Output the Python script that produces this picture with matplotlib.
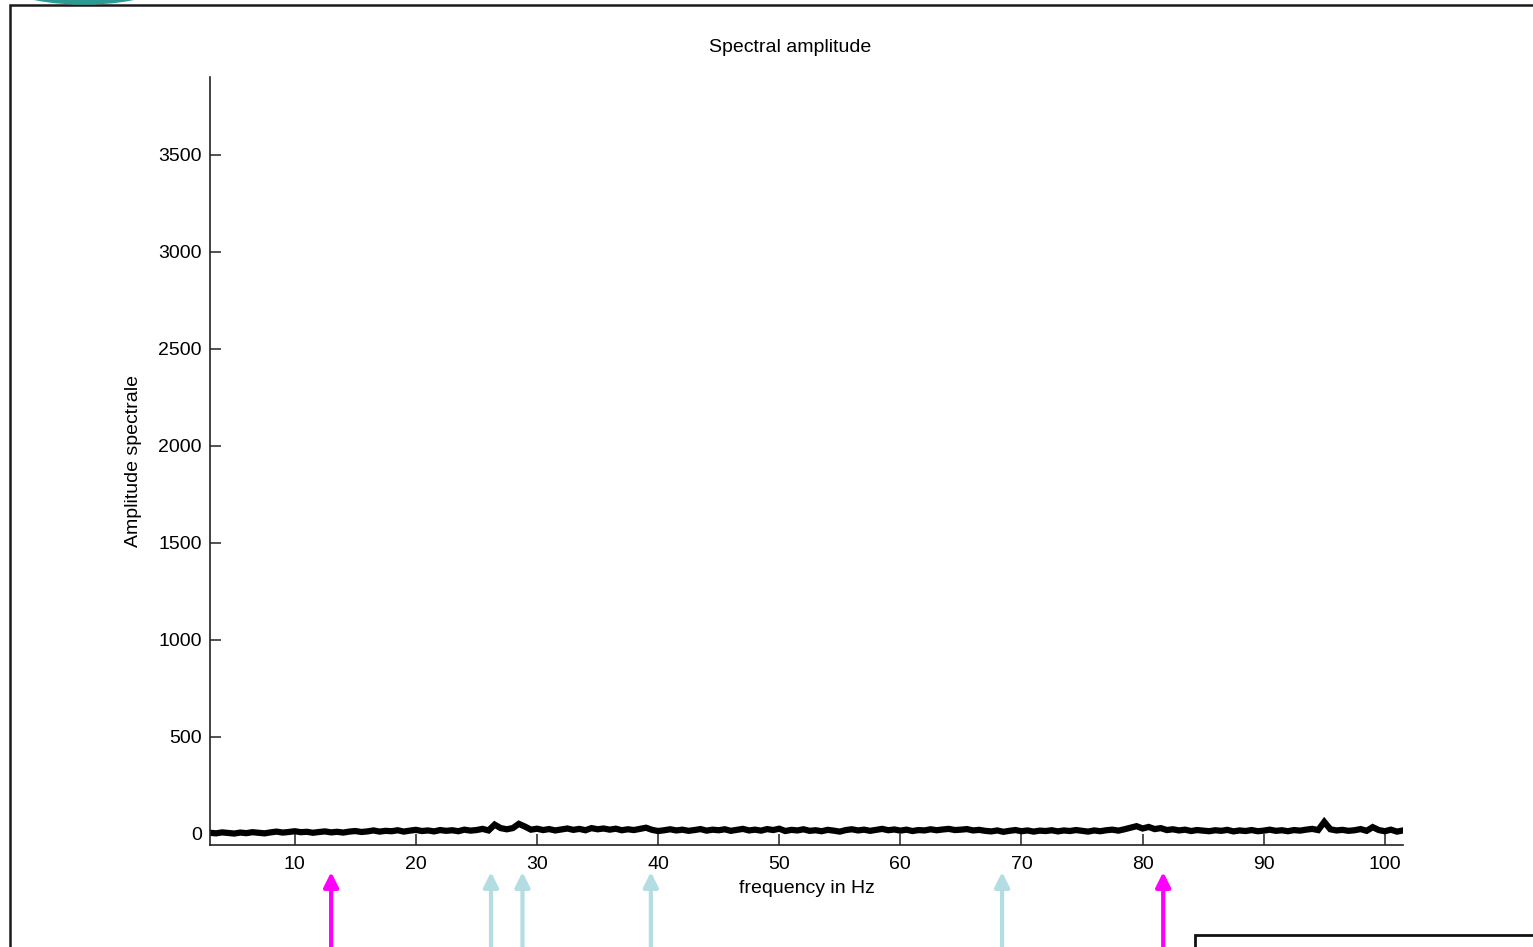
import numpy as np
import matplotlib
matplotlib.use("Agg")
import matplotlib.pyplot as plt
from matplotlib.patches import Rectangle, Arc

# ---- data ----
amplitude = [
    6, 3, 8, 5, 2, 7, 4, 9, 6, 3,
    8, 12, 7, 10, 14, 9, 11, 6, 10, 13,
    8, 11, 7, 12, 15, 10, 13, 18, 12, 16,
    14, 19, 12, 17, 21, 15, 18, 13, 20, 16,
    19, 14, 22, 17, 20, 26, 18, 48, 30, 24,
    30, 52, 38, 22, 27, 20, 25, 18, 23, 28,
    21, 26, 19, 30, 24, 28, 22, 27, 19, 24,
    20, 26, 32, 21, 15, 19, 24, 18, 22, 16,
    20, 25, 17, 22, 19, 24, 16, 21, 26, 18,
    22, 17, 25, 20, 27, 15, 21, 18, 24, 16,
    19, 14, 21, 17, 12, 20, 24, 18, 22, 16,
    21, 26, 19, 23, 17, 22, 15, 20, 18, 24,
    19, 23, 26, 20, 22, 25, 18, 21, 16, 13,
    18, 11, 16, 20, 14, 18, 12, 17, 15, 19,
    13, 18, 15, 20, 16, 12, 18, 14, 19, 22,
    17, 24, 32, 40, 28, 36, 25, 30, 20, 24,
    18, 22, 15, 20, 17, 14, 19, 16, 21, 13,
    18, 15, 20, 14, 17, 22, 16, 19, 14, 20,
    17, 22, 26, 20, 62, 24, 18, 21, 16, 19,
    25, 16, 35, 20, 14, 22, 12, 18,
]
frequency = np.linspace(3.0, 101.5, len(amplitude))

magenta_marks = [13.0, 81.7]
lightblue_marks = [26.2, 28.8, 39.4, 68.4]

x_ticks = [10, 20, 30, 40, 50, 60, 70, 80, 90, 100]
y_ticks = [0, 500, 1000, 1500, 2000, 2500, 3000, 3500]

title = "Spectral amplitude"
xlabel = "frequency in Hz"
ylabel = "Amplitude spectrale"

# ---- figure ----
W, H = 1533, 947
fig = plt.figure(figsize=(W / 100, H / 100), dpi=100)
plt.rcParams['font.family'] = ['Liberation Sans', 'DejaVu Sans']
FS = 14

def fx(px):
    return px / W

def fy(py_top):
    return (H - py_top) / H

ax = fig.add_axes([fx(210), fy(845), fx(1403) - fx(210), fy(77) - fy(845)])
ax.plot(frequency, amplitude, color='black', lw=4.5, solid_joinstyle='miter')
ax.set_xlim(3.0, 101.5)
ax.set_ylim(-57, 3900)
ax.set_xticks(x_ticks)
ax.set_yticks(y_ticks)
ax.spines['top'].set_visible(False)
ax.spines['right'].set_visible(False)
for s in ('left', 'bottom'):
    ax.spines[s].set_color('#222222')
    ax.spines[s].set_linewidth(1.2)
ax.tick_params(direction='in', length=8, width=1.1, labelsize=FS, color='#222222')
ax.tick_params(axis='x', pad=8)
ax.tick_params(axis='y', pad=6)
ax.set_xlabel(xlabel, fontsize=FS, labelpad=5)
ax.set_ylabel(ylabel, fontsize=FS, labelpad=12)
fig.text(fx(790), fy(48), title, ha='center', va='center', fontsize=FS)

# arrows below the axis
tip_y = fy(872)
for xv in lightblue_marks:
    ax.annotate('', xy=(xv, tip_y), xytext=(xv, -0.02),
                xycoords=('data', 'figure fraction'), textcoords=('data', 'figure fraction'),
                arrowprops=dict(arrowstyle='-|>', color='#b3dde2', lw=3, mutation_scale=22,
                                shrinkA=0, shrinkB=0),
                annotation_clip=False)
for xv in magenta_marks:
    ax.annotate('', xy=(xv, tip_y), xytext=(xv, -0.02),
                xycoords=('data', 'figure fraction'), textcoords=('data', 'figure fraction'),
                arrowprops=dict(arrowstyle='-|>', color='#ff00ff', lw=3, mutation_scale=22,
                                shrinkA=0, shrinkB=0),
                annotation_clip=False)

# outer frame
fig.patches.append(Rectangle((fx(10), fy(960)), fx(1560) - fx(10), fy(5) - fy(960),
                             transform=fig.transFigure, fill=False, edgecolor='#1a1a1a', lw=1.8))
# teal arc at top-left
fig.patches.append(Arc((fx(84), fy(-34)), fx(200), 72 / H, theta1=180, theta2=360,
                       transform=fig.transFigure, color='#2a9a92', lw=4))
# box bottom right
fig.patches.append(Rectangle((fx(1195), fy(980)), fx(1560) - fx(1195), fy(935) - fy(980),
                             transform=fig.transFigure, fill=False, edgecolor='#111111', lw=2))

fig.savefig('out.png', dpi=100)
